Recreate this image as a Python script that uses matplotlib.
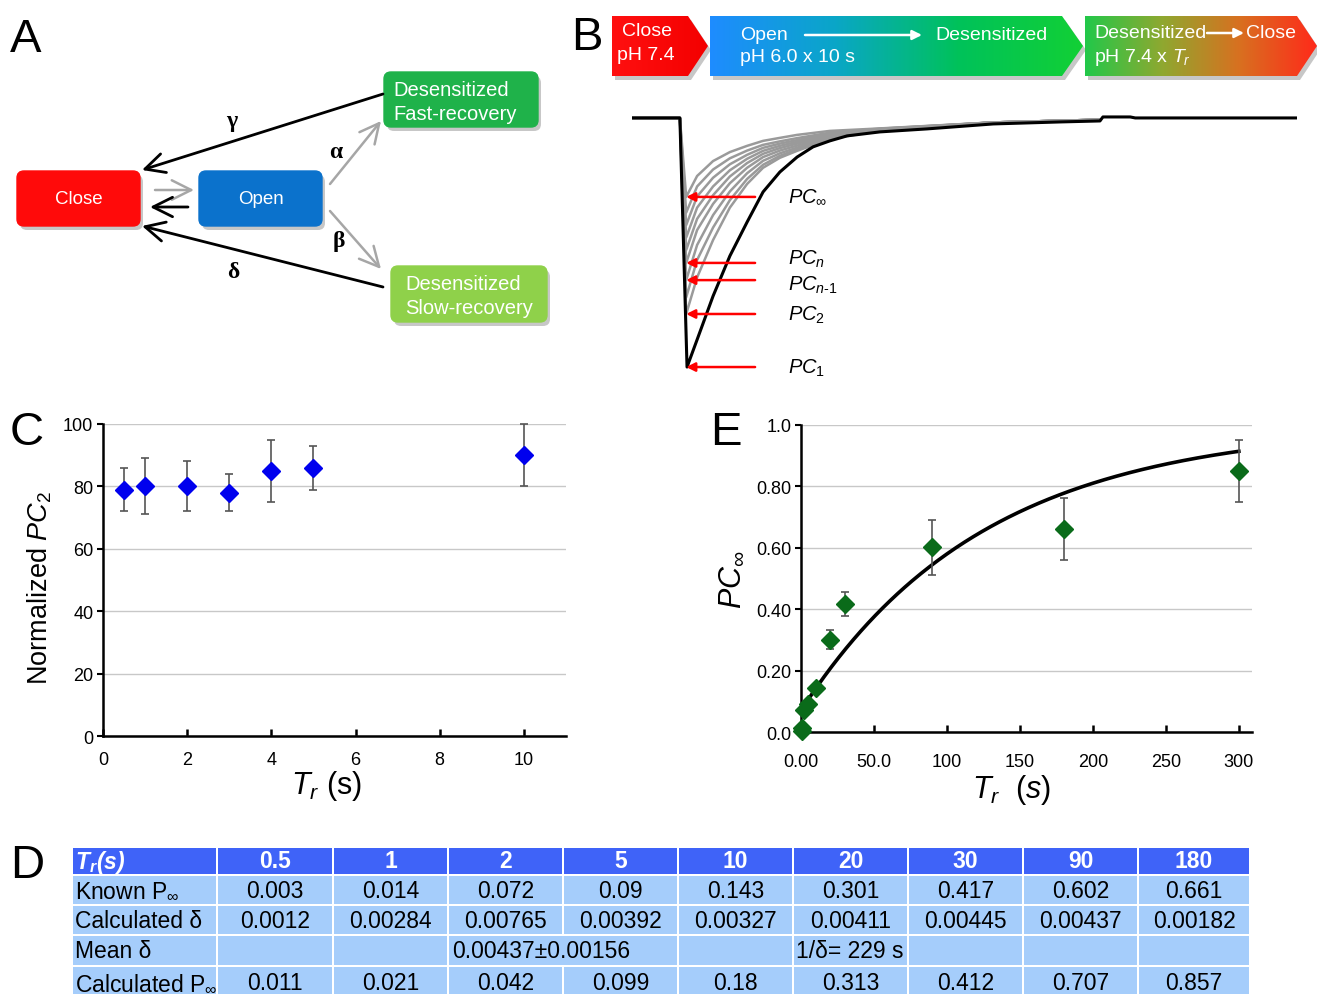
import numpy as np
import matplotlib
matplotlib.use("Agg")
import matplotlib.pyplot as plt
from matplotlib.patches import FancyBboxPatch, Polygon, Rectangle
from matplotlib.colors import LinearSegmentedColormap

plt.rcParams['font.family'] = ['Liberation Sans', 'DejaVu Sans']
plt.rcParams['mathtext.fontset'] = 'custom'
plt.rcParams['mathtext.rm'] = 'Liberation Sans'
plt.rcParams['mathtext.it'] = 'Liberation Sans:italic'
plt.rcParams['mathtext.bf'] = 'Liberation Sans:bold'
plt.rcParams['mathtext.bfit'] = 'Liberation Sans:italic:bold'

# ---------------- data ----------------
# Panel B: recorded traces (time in s, current normalised to PC1)
blk_t = [0, 1.14, 1.31, 1.55, 1.93, 2.33, 2.74, 3.12, 3.52, 3.93, 4.31, 4.71, 5.12,
         5.90, 7.02, 8.60, 10.19, 11.14, 11.21, 11.86, 11.98, 15.83]
blk_i = [0, 0, -1.0, -0.89, -0.715, -0.554, -0.418, -0.297, -0.217, -0.157, -0.116,
         -0.092, -0.072, -0.056, -0.044, -0.024, -0.016, -0.012, 0.004, 0.004, 0, 0]
grey_t = [0, 1.14, 1.29, 1.55, 1.93, 2.33, 2.74, 3.12, 3.52, 3.93, 4.71, 5.90, 8.60, 11.14]
grey_1 = [0, 0, -0.787, -0.64, -0.49, -0.36, -0.265, -0.20, -0.16, -0.132, -0.085, -0.050, -0.018, -0.007]
grey_2 = [0, 0, -0.72, -0.57, -0.44, -0.33, -0.245, -0.188, -0.152, -0.126, -0.082, -0.049, -0.018, -0.007]
grey_3 = [0, 0, -0.651, -0.51, -0.39, -0.295, -0.222, -0.172, -0.142, -0.119, -0.079, -0.048, -0.018, -0.007]
grey_4 = [0, 0, -0.582, -0.45, -0.345, -0.262, -0.20, -0.157, -0.131, -0.111, -0.075, -0.047, -0.018, -0.007]
grey_5 = [0, 0, -0.53, -0.405, -0.31, -0.235, -0.181, -0.144, -0.121, -0.103, -0.071, -0.046, -0.018, -0.007]
grey_6 = [0, 0, -0.48, -0.36, -0.275, -0.21, -0.164, -0.132, -0.112, -0.096, -0.067, -0.045, -0.018, -0.007]
grey_7 = [0, 0, -0.43, -0.315, -0.24, -0.186, -0.148, -0.12, -0.103, -0.089, -0.063, -0.044, -0.018, -0.007]
grey_8 = [0, 0, -0.38, -0.275, -0.207, -0.162, -0.131, -0.108, -0.094, -0.081, -0.059, -0.043, -0.018, -0.007]
grey_9 = [0, 0, -0.317, -0.233, -0.173, -0.137, -0.112, -0.092, -0.08, -0.068, -0.052, -0.042, -0.018, -0.007]
pc_labels = [r'$PC_\infty$', r'$PC_n$', r'$PC_{n\text{-}1}$', r'$PC_2$', r'$PC_1$']

# Panel C
c_tr = [0.5, 1, 2, 3, 4, 5, 10]
c_pc2 = [79, 80, 80, 78, 85, 86, 90]
c_err = [7, 9, 8, 6, 10, 7, 10]
c_xticks = [0, 2, 4, 6, 8, 10]
c_yticks = [0, 20, 40, 60, 80, 100]

# Panel E
e_tr = [0.5, 1, 2, 5, 10, 20, 30, 90, 180, 300]
e_pinf = [0.003, 0.014, 0.072, 0.09, 0.143, 0.301, 0.417, 0.602, 0.661, 0.85]
e_err = [0, 0, 0, 0, 0, 0.03, 0.04, 0.09, 0.10, 0.10]
fit_a, fit_k = 0.93, 0.00795
e_xticks = [0, 50, 100, 150, 200, 250, 300]
e_xlabels = ['0.00', '50.0', '100', '150', '200', '250', '300']
e_yticks = [0, 0.2, 0.4, 0.6, 0.8, 1.0]
e_ylabels = ['0.0', '0.20', '0.40', '0.60', '0.80', '1.0']

# Panel D table
tbl_tr = ['0.5', '1', '2', '5', '10', '20', '30', '90', '180']
known_p = ['0.003', '0.014', '0.072', '0.09', '0.143', '0.301', '0.417', '0.602', '0.661']
calc_delta = ['0.0012', '0.00284', '0.00765', '0.00392', '0.00327', '0.00411', '0.00445', '0.00437', '0.00182']
calc_p = ['0.011', '0.021', '0.042', '0.099', '0.18', '0.313', '0.412', '0.707', '0.857']
mean_delta = '0.00437±0.00156'
inv_delta = '1/δ= 229 s'
row_names = [r'Known P$_{\infty}$', 'Calculated δ', 'Mean δ', r'Calculated P$_{\infty}$']

# ---------------- figure ----------------
W, H = 1317, 995
fig = plt.figure(figsize=(W / 100, H / 100), dpi=100)


def px_axes(x0, y0, x1, y1):
    return fig.add_axes([x0 / W, 1 - y1 / H, (x1 - x0) / W, (y1 - y0) / H])


ov = px_axes(0, 0, W, H)
ov.set_xlim(0, W)
ov.set_ylim(H, 0)
ov.axis('off')

# panel letters
for letter, (lx, ly) in zip('ABCDE', [(10, 52), (571, 50), (10, 445), (10, 878), (710, 445)]):
    ov.text(lx, ly, letter, fontsize=34, va='baseline', ha='left')

# ---------------- Panel A ----------------
def box(x0, y0, x1, y1, color):
    ov.add_patch(FancyBboxPatch((x0 + 3, y0 + 4), x1 - x0, y1 - y0,
                                boxstyle='round,pad=0,rounding_size=7',
                                fc='#9a9a9a', ec='none', alpha=0.55, zorder=1))
    ov.add_patch(FancyBboxPatch((x0, y0), x1 - x0, y1 - y0,
                                boxstyle='round,pad=0,rounding_size=7',
                                fc=color, ec=color, lw=1, zorder=2))


box(17, 172, 140, 227, '#ff0a0a')
box(199, 172, 322, 227, '#0b72cc')
box(384, 73, 538, 128, '#1fb24a')
box(391, 267, 547, 323, '#8fd14a')
ov.text(79, 200, 'Close', color='white', fontsize=13.5, ha='center', va='center', zorder=3)
ov.text(261, 200, 'Open', color='white', fontsize=13.5, ha='center', va='center', zorder=3)
ov.text(393, 90, 'Desensitized', color='white', fontsize=14.5, ha='left', va='center', zorder=3)
ov.text(393, 115, 'Fast-recovery', color='white', fontsize=14.5, ha='left', va='center', zorder=3)
ov.text(405, 284, 'Desensitized', color='white', fontsize=14.5, ha='left', va='center', zorder=3)
ov.text(405, 309, 'Slow-recovery', color='white', fontsize=14.5, ha='left', va='center', zorder=3)


def arrow(p0, p1, color, lw=2.0):
    ov.annotate('', xy=p1, xytext=p0,
                arrowprops=dict(arrowstyle='->,head_length=0.7,head_width=0.35',
                                color=color, lw=lw, shrinkA=0, shrinkB=0,
                                mutation_scale=20))


arrow((383, 95), (142, 171), 'black')
arrow((383, 288), (142, 227), 'black')
arrow((155, 191), (194, 191), '#a6a6a6', 1.8)
arrow((188, 208), (150, 208), 'black')
arrow((330, 185), (381, 122), '#a6a6a6', 1.8)
arrow((330, 212), (381, 270), '#a6a6a6', 1.8)
for sym, (gx, gy) in zip(['γ', 'α', 'β', 'δ'], [(232, 122), (336, 152), (339, 241), (233, 273)]):
    ov.text(gx, gy, sym, fontsize=17, fontweight='bold', family='Liberation Serif',
            ha='center', va='center')

# ---------------- Panel B banners ----------------
def banner(pts, colors, text_items):
    ov.add_patch(Polygon([(x + 3, y + 4) for x, y in pts], closed=True,
                         fc='#9a9a9a', ec='none', alpha=0.55, zorder=1))
    poly = Polygon(pts, closed=True, fc='none', ec='none', zorder=2)
    ov.add_patch(poly)
    xs = [p[0] for p in pts]
    ys = [p[1] for p in pts]
    cmap = LinearSegmentedColormap.from_list('g', colors)
    grad = np.linspace(0, 1, 256)[None, :]
    im = ov.imshow(grad, cmap=cmap, extent=(min(xs), max(xs), max(ys), min(ys)),
                   aspect='auto', zorder=2, interpolation='bilinear')
    im.set_clip_path(poly)
    for (tx, ty, s) in text_items:
        ov.text(tx, ty, s, color='white', fontsize=14, ha='left', va='center', zorder=4)


banner([(612, 17), (688, 17), (708, 47), (688, 77), (612, 77)], ['#ff1010', '#f40000'],
       [(622, 31, 'Close'), (617, 55, 'pH 7.4')])
banner([(710, 17), (1062, 17), (1083, 47), (1062, 77), (710, 77)],
       ['#1e8cff', '#0aa6c8', '#00c25a', '#12d035'],
       [(740, 35, 'Open'), (935, 36, 'Desensitized'), (740, 57, 'pH 6.0 x 10 s')])
banner([(1085, 17), (1297, 17), (1317, 47), (1297, 77), (1085, 77)],
       ['#22c84a', '#8fa830', '#d87020', '#ff2a1a'],
       [(1094, 34, 'Desensitized'), (1246, 34, 'Close'), (1094, 58, r'pH 7.4 x $T_r$')])
for (a0, a1, ay) in [(805, 922, 36), (1207, 1244, 34)]:
    ov.annotate('', xy=(a1, ay), xytext=(a0, ay), zorder=5,
                arrowprops=dict(arrowstyle='-|>', color='white', lw=1.8,
                                mutation_scale=14, shrinkA=0, shrinkB=0))
ov.set_xlim(0, W)
ov.set_ylim(H, 0)
ov.set_aspect('auto')

# ---------------- Panel B traces ----------------
axB = px_axes(632, 105, 1297, 380)
axB.set_xlim(0, 15.83)
axB.set_ylim(-1.048, 0.056)
axB.axis('off')
axB.patch.set_alpha(0)
greys = [grey_1, grey_2, grey_3, grey_4, grey_5, grey_6, grey_7, grey_8, grey_9]
for g in greys:
    axB.plot(grey_t, g, color='#9a9a9a', lw=1.8, solid_joinstyle='round')
axB.plot(blk_t, blk_i, color='black', lw=2.2, solid_joinstyle='round')
pc_levels = [min(grey_9), min(grey_4), min(grey_3), min(grey_1), min(blk_i)]
label_shift = [0, 0.018, -0.018, 0, 0]
for lvl, lab, sh in zip(pc_levels, pc_labels, label_shift):
    axB.annotate('', xy=(1.29, lvl), xytext=(2.93, lvl),
                 arrowprops=dict(arrowstyle='-|>', color='#ff0000', lw=1.8,
                                 mutation_scale=13, shrinkA=0, shrinkB=0))
    axB.text(3.71, lvl + sh, lab, fontsize=14.5, va='center', ha='left')


# ---------------- Panel C ----------------
def style_axes(ax, xpad):
    ax.patch.set_alpha(0)
    for s in ['top', 'right']:
        ax.spines[s].set_visible(False)
    for s in ['left', 'bottom']:
        ax.spines[s].set_linewidth(1.8)
    ax.yaxis.grid(True, color='#c8c8c8', lw=1)
    ax.set_axisbelow(True)
    ax.tick_params(axis='x', direction='in', length=5, width=1.8, labelsize=13, pad=xpad)
    ax.tick_params(axis='y', direction='out', length=4, width=1.5, labelsize=13, pad=3)


axC = px_axes(103, 425, 566, 737)
axC.set_xlim(0, 11)
axC.set_ylim(0, 100)
style_axes(axC, 11)
axC.set_xticks(c_xticks)
axC.set_yticks(c_yticks)
axC.errorbar(c_tr, c_pc2, yerr=c_err, fmt='D', color='#0000ee', ms=9,
             ecolor='#555555', elinewidth=1.2, capsize=3, capthick=1.2, clip_on=False, zorder=3)
ov.text(40, 588, r'Normalized $PC_2$', rotation=90, fontsize=19.5, ha='center', va='center')
ov.text(326, 786, r'$T_r$ (s)', fontsize=22, ha='center', va='center')

# ---------------- Panel E ----------------
axE = px_axes(801, 426, 1252, 733)
axE.set_xlim(0, 309)
axE.set_ylim(0, 1.0)
style_axes(axE, 15)
axE.set_xticks(e_xticks)
axE.set_xticklabels(e_xlabels)
axE.set_yticks(e_yticks)
axE.set_yticklabels(e_ylabels)
xf = np.linspace(1, 300, 300)
axE.plot(xf, 1 - fit_a * np.exp(-fit_k * xf), color='black', lw=2.6, zorder=2)
axE.errorbar(e_tr, e_pinf, yerr=e_err, fmt='D', color='#0a6b1a', ms=9,
             ecolor='#555555', elinewidth=1.2, capsize=3, capthick=1.2, clip_on=False, zorder=3)
ov.text(732, 580, r'$PC_\infty$', rotation=90, fontsize=22, ha='center', va='center')
ov.text(1012, 790, r'$T_r$  $(s)$', fontsize=22, ha='center', va='center')

# ---------------- Panel D table ----------------
col_edges = [72, 217, 333, 448, 563, 678, 793, 908, 1023, 1138, 1250]
row_edges = [848, 876, 906, 936, 967, 1000]
head_c, body_c = '#3f63f8', '#a5cdfb'


def cell(c0, c1, r, color):
    x0, x1 = col_edges[c0], col_edges[c1]
    y0, y1 = row_edges[r], row_edges[r + 1]
    ov.add_patch(Rectangle((x0 + 1, y0 + 1), x1 - x0 - 2, y1 - y0 - 2, fc=color, ec='none'))


for c in range(10):
    cell(c, c + 1, 0, head_c)
for r in range(1, 5):
    for c in range(10):
        if r == 3 and c in (3, 4):
            continue
        cell(c, c + 1, r, body_c)
cell(3, 5, 3, body_c)


def rc(r):
    return (row_edges[r] + row_edges[r + 1]) / 2


def cc(c):
    return (col_edges[c] + col_edges[c + 1]) / 2


fs = 16.5
ov.text(col_edges[0] + 3, rc(0), r'$\mathbfit{T_r(s)}$', color='white',
        fontsize=fs, ha='left', va='center')
for i, s in enumerate(tbl_tr):
    ov.text(cc(i + 1), rc(0), s, color='white', fontsize=fs, fontweight='bold', ha='center', va='center')
for r, name in enumerate(row_names, start=1):
    ov.text(col_edges[0] + 3, rc(r), name, fontsize=fs, ha='left', va='center')
for i in range(9):
    ov.text(cc(i + 1), rc(1), known_p[i], fontsize=fs, ha='center', va='center')
    ov.text(cc(i + 1), rc(2), calc_delta[i], fontsize=fs, ha='center', va='center')
    ov.text(cc(i + 1), rc(4), calc_p[i], fontsize=fs, ha='center', va='center')
ov.text(col_edges[3] + 4, rc(3), mean_delta, fontsize=fs, ha='left', va='center')
ov.text(col_edges[6] + 3, rc(3), inv_delta, fontsize=fs, ha='left', va='center')

fig.savefig('out.png', dpi=100)
